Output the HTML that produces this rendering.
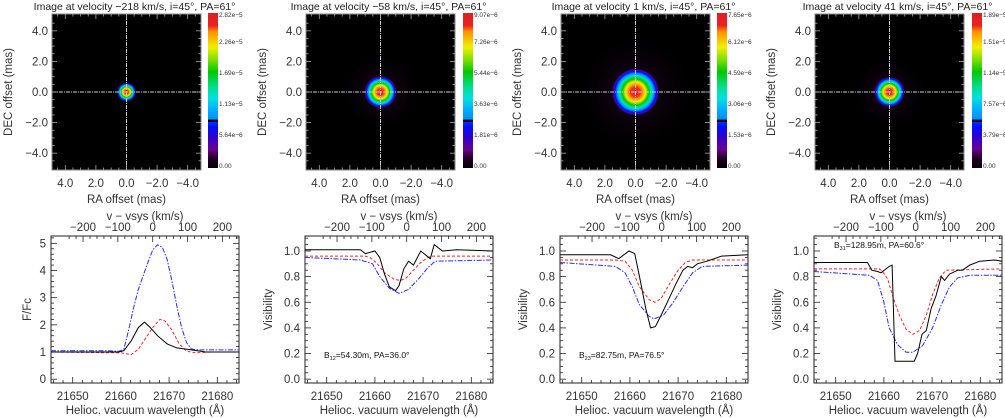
<!DOCTYPE html>
<html><head><meta charset="utf-8">
<style>
html,body{margin:0;padding:0;background:#fff;}
svg{display:block;font-family:"Liberation Sans","DejaVu Sans",sans-serif;}
</style></head>
<body>
<svg id="fig" width="1005" height="418" viewBox="0 0 1005 418" xmlns="http://www.w3.org/2000/svg">
<defs>
<linearGradient id="cmap" x1="0" y1="1" x2="0" y2="0">
<stop offset="0" stop-color="#000"/>
<stop offset="0.06" stop-color="#200020"/>
<stop offset="0.12" stop-color="#6a0090"/>
<stop offset="0.2" stop-color="#3000d0"/>
<stop offset="0.27" stop-color="#0010ff"/>
<stop offset="0.295" stop-color="#0030ff"/>
<stop offset="0.3" stop-color="#000"/>
<stop offset="0.31" stop-color="#000"/>
<stop offset="0.315" stop-color="#0090ff"/>
<stop offset="0.38" stop-color="#00b0ff"/>
<stop offset="0.45" stop-color="#00e0e0"/>
<stop offset="0.52" stop-color="#00e090"/>
<stop offset="0.62" stop-color="#00c800"/>
<stop offset="0.7" stop-color="#80e000"/>
<stop offset="0.78" stop-color="#f0f000"/>
<stop offset="0.88" stop-color="#ff9000"/>
<stop offset="0.92" stop-color="#ee2020"/>
<stop offset="1" stop-color="#dd2020"/>
</linearGradient>
<radialGradient id="blob">
<stop offset="0" stop-color="#dd2020"/>
<stop offset="0.2" stop-color="#ee3020"/>
<stop offset="0.3" stop-color="#ff9000"/>
<stop offset="0.42" stop-color="#f0f000"/>
<stop offset="0.55" stop-color="#00c800"/>
<stop offset="0.67" stop-color="#00e0c0"/>
<stop offset="0.76" stop-color="#00a0ff"/>
<stop offset="0.86" stop-color="#0010ff"/>
<stop offset="0.93" stop-color="#5000a0"/>
<stop offset="1" stop-color="#000" stop-opacity="0"/>
</radialGradient>
<radialGradient id="halo">
<stop offset="0" stop-color="#401040" stop-opacity="0.6"/>
<stop offset="1" stop-color="#000" stop-opacity="0"/>
</radialGradient>
</defs>
</svg>
<script>
// ---- data ----
const titles = ["Image at velocity \u2212218 km/s, i=45\u00b0, PA=61\u00b0","Image at velocity \u221258 km/s, i=45\u00b0, PA=61\u00b0","Image at velocity 1 km/s, i=45\u00b0, PA=61\u00b0","Image at velocity 41 km/s, i=45\u00b0, PA=61\u00b0"];
const cbarLabels1 = ["0.00","5.64e\u22126","1.13e\u22125","1.69e\u22125","2.26e\u22125","2.82e\u22125"];
const cbarLabels2 = ["0.00","1.81e\u22126","3.63e\u22126","5.44e\u22126","7.26e\u22126","9.07e\u22126"];
const cbarLabels3 = ["0.00","1.53e\u22126","3.06e\u22126","4.59e\u22126","6.12e\u22126","7.65e\u22126"];
const cbarLabels4 = ["0.00","3.79e\u22126","7.57e\u22126","1.14e\u22125","1.51e\u22125","1.89e\u22125"];
const blobRadiusMas = [0.5, 0.85, 1.25, 0.8];
const imgTicks = [4, 2, 0, -2, -4];
const waveTicks = [21650, 21660, 21670, 21680];
const velTicks = [-200, -100, 0, 100, 200];
const fluxTicks = [0,1,2,3,4,5];
const visTicks = [0,0.2,0.4,0.6,0.8,1.0];

const p1BlueW = [21645.5,21656.6,21659.6,21660.6,21661.6,21662.6,21663.6,21664.6,21665.6,21666.6,21667.6,21668.6,21669.6,21670.6,21671.6,21672.6,21673.6,21674.6,21675.6,21684.5];
const p1BlueV = [1.05,1.05,1.03,1.1,1.8,2.6,3.3,3.8,4.3,4.75,4.95,4.85,4.4,3.6,2.7,1.9,1.35,1.12,1.08,1.08];
const p1BlackW = [21645.5,21659.6,21660.6,21662.1,21663.6,21664.9,21666.1,21667.6,21669.6,21671.6,21674.6,21677.6,21684.5];
const p1BlackV = [1.0,1.0,1.05,1.4,1.9,2.1,1.9,1.6,1.3,1.15,1.08,1.0,1.0];
const p1RedW = [21645.5,21660.0,21662.1,21663.6,21665.1,21666.6,21668.1,21669.1,21670.6,21672.1,21673.6,21675.6,21678.6,21684.5];
const p1RedV = [1.0,0.97,0.9,1.1,1.5,1.9,2.2,2.15,1.8,1.3,1.03,0.97,1.0,1.0];

const p2BlackW = [21645.5,21657,21658,21660,21661,21662,21663,21664.3,21665,21666,21667,21668,21669.5,21671.5,21672.3,21674,21677,21684.5];
const p2BlackV = [1.01,1.01,0.98,1.0,0.95,0.82,0.72,0.69,0.73,0.86,0.92,0.89,1.0,0.94,1.05,1.0,1.01,1.0];
const p2RedW = [21645.5,21658,21659,21660.5,21662,21664,21665.3,21666.5,21668,21669.5,21671,21672,21684.5];
const p2RedV = [0.96,0.96,0.95,0.9,0.83,0.78,0.77,0.79,0.85,0.91,0.95,0.96,0.96];
const p2BlueW = [21645.5,21657,21659.5,21661,21663,21665,21667,21669,21671,21672.5,21684.5];
const p2BlueV = [0.95,0.93,0.9,0.8,0.71,0.67,0.7,0.78,0.87,0.92,0.93];

const p3BlackW = [21645.5,21656,21657.7,21659.8,21661,21662,21663.3,21664.3,21665.3,21666.5,21668,21669.5,21671,21672,21673,21674,21676,21679,21684.5];
const p3BlackV = [0.97,0.97,0.94,1.0,0.98,0.8,0.55,0.4,0.41,0.5,0.62,0.74,0.85,0.88,0.87,0.9,0.92,0.96,0.97];
const p3RedW = [21645.5,21657,21659,21660.5,21662,21664,21665.2,21666.5,21668,21670,21671.5,21673,21684.5];
const p3RedV = [0.93,0.93,0.92,0.85,0.72,0.62,0.6,0.63,0.73,0.85,0.91,0.93,0.93];
const p3BlueW = [21645.5,21657,21659,21660.5,21662,21664,21665,21667,21669,21671,21673,21675,21684.5];
const p3BlueV = [0.91,0.88,0.83,0.72,0.58,0.49,0.47,0.5,0.6,0.72,0.83,0.88,0.89];

const p4BlackW = [21645.5,21656.6,21657.5,21658.7,21659.4,21661.1,21661.7,21662.3,21666.3,21667,21667.9,21668.8,21669.8,21670.8,21671.9,21672.6,21673.6,21675.3,21676.3,21677.8,21679.9,21683,21684.5];
const p4BlackV = [0.91,0.91,0.85,0.84,0.83,0.88,0.89,0.14,0.14,0.2,0.35,0.38,0.55,0.65,0.8,0.77,0.82,0.85,0.85,0.89,0.92,0.93,0.92];
const p4RedW = [21645.5,21659,21659.7,21660.8,21661.8,21663.2,21664.6,21666,21667.4,21668.8,21670.1,21671.5,21672.9,21684.5];
const p4RedV = [0.86,0.86,0.84,0.78,0.65,0.5,0.39,0.35,0.38,0.5,0.66,0.79,0.85,0.86];
const p4BlueW = [21645.5,21657,21658.7,21660,21661.1,21662.8,21664.6,21666,21668,21670.1,21671.9,21673.6,21675.3,21677.8,21684.5];
const p4BlueV = [0.84,0.81,0.77,0.6,0.4,0.27,0.21,0.21,0.26,0.4,0.58,0.72,0.79,0.81,0.81];

const baselineText = [null,"12|=54.30m, PA=36.0\u00b0","23|=82.75m, PA=76.5\u00b0","31|=128.95m, PA=60.6\u00b0"];

// ---- layout ----
const NS = "http://www.w3.org/2000/svg";
const svg = document.getElementById("fig");
function el(tag, attrs, parent){ const e=document.createElementNS(NS,tag); for(const k in attrs) e.setAttribute(k,attrs[k]); (parent||svg).appendChild(e); return e; }
function txt(str, attrs, parent){ const e=el("text",attrs,parent); e.textContent=str; return e; }

const imgLeft=[52,306,561,815], imgW=149, imgTop=14, imgH=156;
const cbLeft=[208,463,717,972];
const plotLeft=[51,305,560,814], plotW=188, plotTop=236, plotBot=383;
const wMin=21645.5, wMax=21684.5;
const lam0=21666.6, cKms=299792.458;
const cbarSets=[cbarLabels1,cbarLabels2,cbarLabels3,cbarLabels4];

for(let p=0;p<4;p++){
  const g=el("g",{});
  
  
  // ---- image ----
  const L=imgLeft[p], T=imgTop;
  const sx=m=> L+imgW/2 - m*(imgW/9.74);
  const sy=m=> T+imgH/2 - m*(imgH/10.2);
  const t=txt(titles[p],{x:L+imgW/2+8,y:10,"font-size":10.5,"text-anchor":"middle",fill:"#222"},g);
  
  
  const bg=el("rect",{x:L,y:T,width:imgW,height:imgH,fill:"#000",stroke:"#888","stroke-width":1},g);
  
  
  const rp=blobRadiusMas[p]*(imgW/9.74);
  if(p>0){ const h=el("circle",{cx:sx(0),cy:sy(0),r:rp*3.2,fill:"url(#halo)"},g);
      }
  const b=el("circle",{cx:sx(0),cy:sy(0),r:rp*1.25,fill:"url(#blob)"},g);
  
  
  el("line",{x1:L,x2:L+imgW,y1:sy(0),y2:sy(0),stroke:"#ccc","stroke-width":1,"stroke-dasharray":"4 1 1 1"},g);
  el("line",{x1:sx(0),x2:sx(0),y1:T,y2:T+imgH,stroke:"#ccc","stroke-width":1,"stroke-dasharray":"4 1 1 1"},g);
  // ticks image
  for(let m=-4.5;m<=4.51;m+=0.5){
    const major=Math.abs(m%2)<1e-6; const len=major?5:2.5;
    el("line",{x1:sx(m),x2:sx(m),y1:T+imgH,y2:T+imgH-len,stroke:"#aaa","stroke-width":0.8},g);
    el("line",{x1:sx(m),x2:sx(m),y1:T,y2:T+len,stroke:"#aaa","stroke-width":0.8},g);
    el("line",{x1:L,x2:L+len,y1:sy(m),y2:sy(m),stroke:"#aaa","stroke-width":0.8},g);
    el("line",{x1:L+imgW,x2:L+imgW-len,y1:sy(m),y2:sy(m),stroke:"#aaa","stroke-width":0.8},g);
  }
  for(const v of imgTicks){
    const lab=(v<0?"\u2212":"")+Math.abs(v).toFixed(1);
    const a=txt(lab,{x:sx(v),y:187,"font-size":11.5,"text-anchor":"middle",fill:"#333"},g);
     
    const d=txt(lab,{x:L-4,y:sy(v)+4,"font-size":11.5,"text-anchor":"end",fill:"#333"},g);
     
  }
  const ra=txt("RA offset (mas)",{x:L+imgW/2,y:203,"font-size":11.5,"text-anchor":"middle",fill:"#333"},g);
   
  const de=txt("DEC offset (mas)",{x:0,y:0,"font-size":11.5,"text-anchor":"middle",fill:"#333",transform:`translate(${L-40},${T+imgH/2}) rotate(-90)`},g);
   
  // colorbar
  const cb=el("rect",{x:cbLeft[p],y:13,width:10,height:155,fill:"url(#cmap)"},g);
  
  
  const labs=cbarSets[p];
  for(let i=0;i<labs.length;i++){
    const yy = i==labs.length-1 ? 17 : 168 - i*31;
    const c=txt(labs[i],{x:cbLeft[p]+11,y:yy,"font-size":6.5,fill:"#333"},g);
     
  }
  // ---- spectrum / visibility plot ----
  const PL=plotLeft[p];
  const xs=w=> PL+(w-wMin)/(wMax-wMin)*plotW;
  const yMin = p==0? -0.14 : -0.03, yMax = p==0? 5.27 : 1.117;
  const ys=v=> plotBot-(v-yMin)/(yMax-yMin)*(plotBot-plotTop);
  const frame=el("rect",{x:PL,y:plotTop,width:plotW,height:plotBot-plotTop,fill:"none",stroke:"#222","stroke-width":1},g);
   
  for(let w=21646;w<=21684;w+=2){
    const len=(w%10==0)?6:3;
    el("line",{x1:xs(w),x2:xs(w),y1:plotBot,y2:plotBot-len,stroke:"#222","stroke-width":0.8},g);
  }
  for(let v=-240;v<=240;v+=20){
    const w=lam0*(1+v/cKms); if(w<wMin||w>wMax) continue;
    const len=(v%100==0)?6:3;
    el("line",{x1:xs(w),x2:xs(w),y1:plotTop,y2:plotTop+len,stroke:"#222","stroke-width":0.8},g);
  }
  const minor = p==0?0.2:0.05, major=p==0?1:0.2;
  for(let k=0;k*minor<=yMax+1e-9;k++){
    const v=k*minor; const isMaj=Math.abs(v/major-Math.round(v/major))<1e-6; const len=isMaj?6:3;
    el("line",{x1:PL,x2:PL+len,y1:ys(v),y2:ys(v),stroke:"#222","stroke-width":0.8},g);
    el("line",{x1:PL+plotW,x2:PL+plotW-len,y1:ys(v),y2:ys(v),stroke:"#222","stroke-width":0.8},g);
  }
  for(const w of waveTicks){
    const a=txt(String(w),{x:xs(w),y:400,"font-size":11.5,"text-anchor":"middle",fill:"#333"},g);
     
  }
  for(const v of velTicks){
    const w=lam0*(1+v/cKms);
    const a=txt((v<0?"\u2212":"")+Math.abs(v),{x:xs(w),y:231,"font-size":11.5,"text-anchor":"middle",fill:"#333"},g);
     
  }
  const yt = p==0?fluxTicks:visTicks;
  for(const v of yt){
    const a=txt(p==0?String(v):v.toFixed(1),{x:PL-5,y:ys(v)+4,"font-size":11.5,"text-anchor":"end",fill:"#333"},g);
     
  }
  const xt=txt("Helioc. vacuum wavelength (\u00c5)",{x:PL+plotW/2,y:414,"font-size":11.5,"text-anchor":"middle",fill:"#333"},g);
   
  const vt=txt("v \u2212 vsys (km/s)",{x:PL+plotW/2,y:220,"font-size":11.5,"text-anchor":"middle",fill:"#333"},g);
   
  const yl=txt(p==0?"F/Fc":"Visibility",{x:0,y:0,"font-size":11.5,"text-anchor":"middle",fill:"#333",transform:`translate(${PL-(p==0?20:33)},${(plotTop+plotBot)/2}) rotate(-90)`},g);
   
  const series = [
    [[p1BlueW,p1BlueV],[p2BlueW,p2BlueV],[p3BlueW,p3BlueV],[p4BlueW,p4BlueV]][p],
    [[p1RedW,p1RedV],[p2RedW,p2RedV],[p3RedW,p3RedV],[p4RedW,p4RedV]][p],
    [[p1BlackW,p1BlackV],[p2BlackW,p2BlackV],[p3BlackW,p3BlackV],[p4BlackW,p4BlackV]][p]
  ];
  const styles=[{stroke:"#2a2aff","stroke-dasharray":"5 1.5 1.5 1.5"},{stroke:"#ff2020","stroke-dasharray":"3 2"},{stroke:"#000"}];
  const names=["model-blue-line","model-red-line","observed-black-line"];
  for(let s=0;s<3;s++){
    const [W,V]=series[s];
    const d=W.map((w,i)=>(i?"L":"M")+xs(w).toFixed(1)+","+ys(V[i]).toFixed(1)).join(" ");
    const path=el("path",Object.assign({d:d,fill:"none","stroke-width":1},styles[s]),g);
    
    
  }
  if(baselineText[p]){
    const [sub,rest]=baselineText[p].split("|");
    const bx = p==3? PL+20 : PL+19, by = p==3? 248 : 358;
    const bt=el("text",{x:bx,y:by,"font-size":8.5,fill:"#111"},g);
    
    
    const t1=document.createElementNS(NS,"tspan"); t1.textContent="B"; bt.appendChild(t1);
    const t2=document.createElementNS(NS,"tspan"); t2.setAttribute("font-size","5.5"); t2.setAttribute("dy","2"); t2.textContent=sub; bt.appendChild(t2);
    const t3=document.createElementNS(NS,"tspan"); t3.setAttribute("dy","-2"); t3.textContent=rest; bt.appendChild(t3);
  }
}
</script>
</body></html>
